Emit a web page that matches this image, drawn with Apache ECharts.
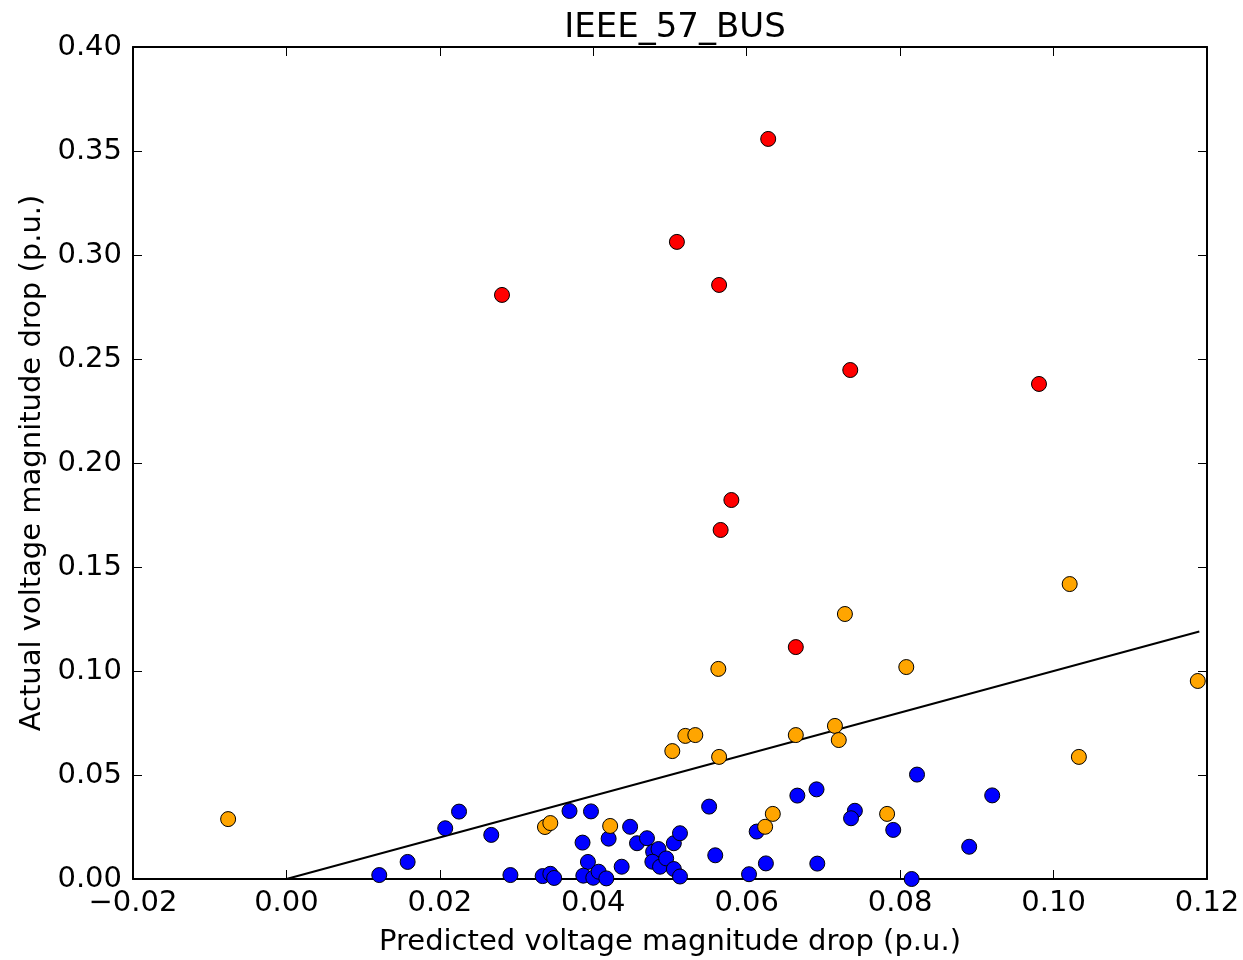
<!DOCTYPE html>
<html>
<head>
<meta charset="utf-8">
<script src="https://cdn.jsdelivr.net/npm/echarts@6/dist/echarts.min.js"></script>
<style>
html,body{margin:0;padding:0;background:#fff;}
#chart{width:1243px;height:960px;}
</style>
</head>
<body>
<div id="chart"></div>
<script>
const titleText = 'IEEE_57_BUS';
const xLabel = 'Predicted voltage magnitude drop (p.u.)';
const yLabel = 'Actual voltage magnitude drop (p.u.)';

const redX = [0.0281, 0.0509, 0.0564, 0.0628, 0.0735, 0.0981, 0.0580, 0.0566, 0.0664];
const redY = [0.2808, 0.3063, 0.2856, 0.3558, 0.2447, 0.2380, 0.1822, 0.1678, 0.1115];

const orangeX = [-0.0076, 0.0337, 0.0344, 0.0422, 0.0503, 0.0520, 0.0533, 0.0563, 0.0564, 0.0624,
  0.0634, 0.0664, 0.0715, 0.0720, 0.0728, 0.0783, 0.0808, 0.1021, 0.1033, 0.1188];
const orangeY = [0.0288, 0.0250, 0.0269, 0.0255, 0.0615, 0.0688, 0.0692, 0.1010, 0.0587, 0.0251,
  0.0313, 0.0692, 0.0736, 0.0668, 0.1274, 0.0313, 0.1019, 0.1418, 0.0587, 0.0952];

const blueX = [0.0121, 0.0158, 0.0207, 0.0225, 0.0267, 0.0292, 0.0334, 0.0344, 0.0349, 0.0369,
  0.0397, 0.0386, 0.0393, 0.0387, 0.0400, 0.0407, 0.0417, 0.0420, 0.0437, 0.0448,
  0.0457, 0.0470, 0.0478, 0.0485, 0.0477, 0.0487, 0.0495, 0.0505, 0.0513, 0.0505,
  0.0513, 0.0551, 0.0559, 0.0603, 0.0613, 0.0625, 0.0666, 0.0691, 0.0692, 0.0741,
  0.0736, 0.0791, 0.0822, 0.0815, 0.0890, 0.0920];
const blueY = [0.0019, 0.0082, 0.0244, 0.0324, 0.0212, 0.0019, 0.0014, 0.0025, 0.0005, 0.0327,
  0.0325, 0.0175, 0.0082, 0.0016, 0.0006, 0.0035, 0.0003, 0.0194, 0.0059, 0.0251,
  0.0172, 0.0196, 0.0131, 0.0144, 0.0083, 0.0059, 0.0099, 0.0172, 0.0220, 0.0048,
  0.0012, 0.0348, 0.0114, 0.0023, 0.0228, 0.0075, 0.0401, 0.0431, 0.0074, 0.0328,
  0.0292, 0.0236, 0.0502, 0.0000, 0.0155, 0.0402];

const refLineX = [0, 0.119];
const refLineY = [0, 0.119];

const xTicks = {min: -0.02, max: 0.12, interval: 0.02};
const yTicks = {min: 0, max: 0.40, interval: 0.05};

function pairs(xs, ys) { return xs.map((x, i) => [x, ys[i]]); }
function fmt(v) { return v.toFixed(2).replace('-', '\u2212'); }

const FONT = 'DejaVu Sans';
const chart = echarts.init(document.getElementById('chart'), null, {renderer: 'canvas'});

const baseAxis = {
  type: 'value',
  splitLine: {show: false},
  axisLine: {show: true, onZero: false, lineStyle: {color: '#000', width: 2}},
  axisTick: {show: true, inside: true, length: 9, lineStyle: {color: '#000', width: 1}}
};

function scatter(name, data, color) {
  return {
    name, type: 'scatter', data, symbol: 'circle', symbolSize: 15, z: 3,
    itemStyle: {color, borderColor: '#000', borderWidth: 1, opacity: 1},
    emphasis: {disabled: true}
  };
}

chart.setOption({
  animation: false,
  backgroundColor: '#fff',
  textStyle: {fontFamily: FONT},
  title: {
    text: titleText, left: 670, top: 6, textAlign: 'center',
    textStyle: {fontFamily: FONT, fontSize: 34, fontWeight: 'normal', color: '#000'}
  },
  grid: {left: 133, right: 36, top: 47, bottom: 81, containLabel: false, outerBoundsMode: 'none'},
  xAxis: [
    Object.assign({}, baseAxis, {
      position: 'bottom', min: xTicks.min, max: xTicks.max, interval: xTicks.interval,
      name: xLabel, nameLocation: 'middle', nameGap: 49,
      nameTextStyle: {fontFamily: FONT, fontSize: 29, color: '#000'},
      axisLabel: {show: true, margin: 10, fontFamily: FONT, fontSize: 29, color: '#000', formatter: fmt}
    }),
    Object.assign({}, baseAxis, {
      position: 'top', min: xTicks.min, max: xTicks.max, interval: xTicks.interval,
      axisLabel: {show: false}
    })
  ],
  yAxis: [
    Object.assign({}, baseAxis, {
      position: 'left', min: yTicks.min, max: yTicks.max, interval: yTicks.interval,
      name: yLabel, nameLocation: 'middle', nameGap: 86, nameRotate: 90,
      nameTextStyle: {fontFamily: FONT, fontSize: 29, color: '#000'},
      axisLabel: {show: true, margin: 11, fontFamily: FONT, fontSize: 29, color: '#000', formatter: fmt}
    }),
    Object.assign({}, baseAxis, {
      position: 'right', min: yTicks.min, max: yTicks.max, interval: yTicks.interval,
      axisLabel: {show: false}
    })
  ],
  series: [
    {
      type: 'line', data: pairs(refLineX, refLineY), showSymbol: false, symbol: 'none', z: 2,
      lineStyle: {color: '#000', width: 2}, emphasis: {disabled: true}
    },
    scatter('blue', pairs(blueX, blueY), '#0000ff'),
    scatter('orange', pairs(orangeX, orangeY), '#ffa500'),
    scatter('red', pairs(redX, redY), '#ff0000')
  ]
});
</script>
</body>
</html>
